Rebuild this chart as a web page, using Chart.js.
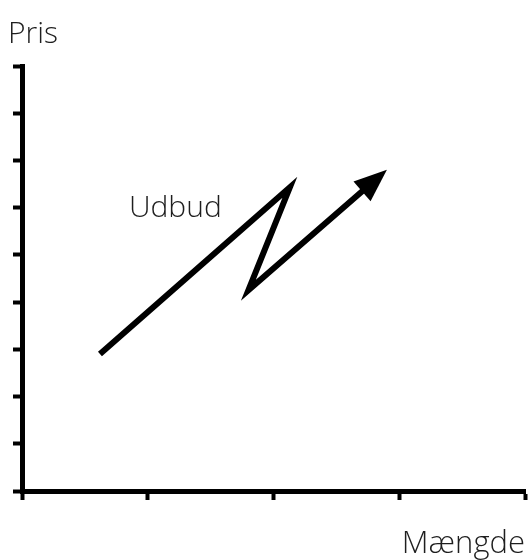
<!DOCTYPE html>
<html>
<head>
<meta charset="utf-8">
<script src="https://cdn.jsdelivr.net/npm/chart.js@4/dist/chart.umd.min.js"></script>
<style>
  body { margin: 0; background: #fff; }
  #wrap { width: 528px; height: 560px; }
</style>
</head>
<body>
<div id="wrap"><canvas id="chart" width="528" height="560"></canvas></div>
<script>
// supply curve (zig-zag), points in data units
const supplyX = [0.62, 2.13, 1.80, 2.71];
const supplyY = [2.90, 6.43, 4.25, 6.36];
const xTicks = [0, 1, 2, 3, 4];
const yTicks = [0, 1, 2, 3, 4, 5, 6, 7, 8, 9];
const yAxisLabel = "Pris";
const xAxisLabel = "Mængde";
const curveLabel = "Udbud";

const textColor = "#1e1e1e";
const fontFamily = "'Open Sans', 'Noto Sans', sans-serif";

// arrow head at the end of the line + curve label
const arrowPlugin = {
  id: "arrowHead",
  afterDatasetsDraw(chart) {
    const ctx = chart.ctx;
    const pts = chart.getDatasetMeta(0).data;
    const p1 = pts[pts.length - 2];
    const p2 = pts[pts.length - 1];
    const ang = Math.atan2(p2.y - p1.y, p2.x - p1.x);
    const len = 32, half = 13;
    const ux = Math.cos(ang), uy = Math.sin(ang);
    const bx = p2.x - ux, by = p2.y - uy;
    ctx.save();
    ctx.fillStyle = "#000";
    ctx.beginPath();
    ctx.moveTo(p2.x + ux * len, p2.y + uy * len);
    ctx.lineTo(bx - uy * half, by + ux * half);
    ctx.lineTo(bx + uy * half, by - ux * half);
    ctx.closePath();
    ctx.fill();

    // label
    const x = chart.scales.x.getPixelForValue(0.85);
    const y = chart.scales.y.getPixelForValue(5.8);
    ctx.font = "300 30px " + fontFamily;
    ctx.fillStyle = textColor;
    ctx.textAlign = "left";
    ctx.textBaseline = "alphabetic";
    ctx.fillText(curveLabel, x, y);
    ctx.restore();
  }
};

const points = supplyX.map((x, i) => ({ x: x, y: supplyY[i] }));

new Chart(document.getElementById("chart"), {
  type: "scatter",
  data: {
    datasets: [
      {
        data: points,
        showLine: true,
        borderColor: "#000",
        borderWidth: 6,
        borderCapStyle: "butt",
        borderJoinStyle: "miter",
        pointRadius: 0,
        tension: 0
      }
    ]
  },
  options: {
    responsive: false,
    animation: false,
    layout: { padding: { left: 8, right: 3, top: 0, bottom: 0 } },
    plugins: {
      legend: { display: false },
      tooltip: { enabled: false },
      title: {
        display: true,
        text: yAxisLabel,
        align: "start",
        color: textColor,
        font: { family: fontFamily, size: 30, weight: "300", lineHeight: 1.2 },
        padding: { top: 16, bottom: 14 }
      }
    },
    scales: {
      x: {
        type: "linear",
        min: xTicks[0],
        max: xTicks[xTicks.length - 1],
        afterBuildTicks: (axis) => { axis.ticks = xTicks.map((v) => ({ value: v })); },
        ticks: { display: false },
        grid: { drawOnChartArea: false, drawTicks: true, tickLength: 9, tickWidth: 4, tickColor: "#000" },
        border: { display: true, color: "#000", width: 5 },
        title: {
          display: true,
          text: xAxisLabel,
          align: "end",
          color: textColor,
          font: { family: fontFamily, size: 31, weight: "300", lineHeight: 1 },
          padding: { top: 29, bottom: 0 }
        }
      },
      y: {
        type: "linear",
        min: yTicks[0],
        max: yTicks[yTicks.length - 1],
        afterBuildTicks: (axis) => { axis.ticks = yTicks.map((v) => ({ value: v })); },
        afterFit: (axis) => { axis.width = 14; },
        ticks: { display: false },
        grid: { drawOnChartArea: false, drawTicks: true, tickLength: 9, tickWidth: 4, tickColor: "#000" },
        border: { display: true, color: "#000", width: 5 }
      }
    }
  },
  plugins: [arrowPlugin]
});
</script>
</body>
</html>
